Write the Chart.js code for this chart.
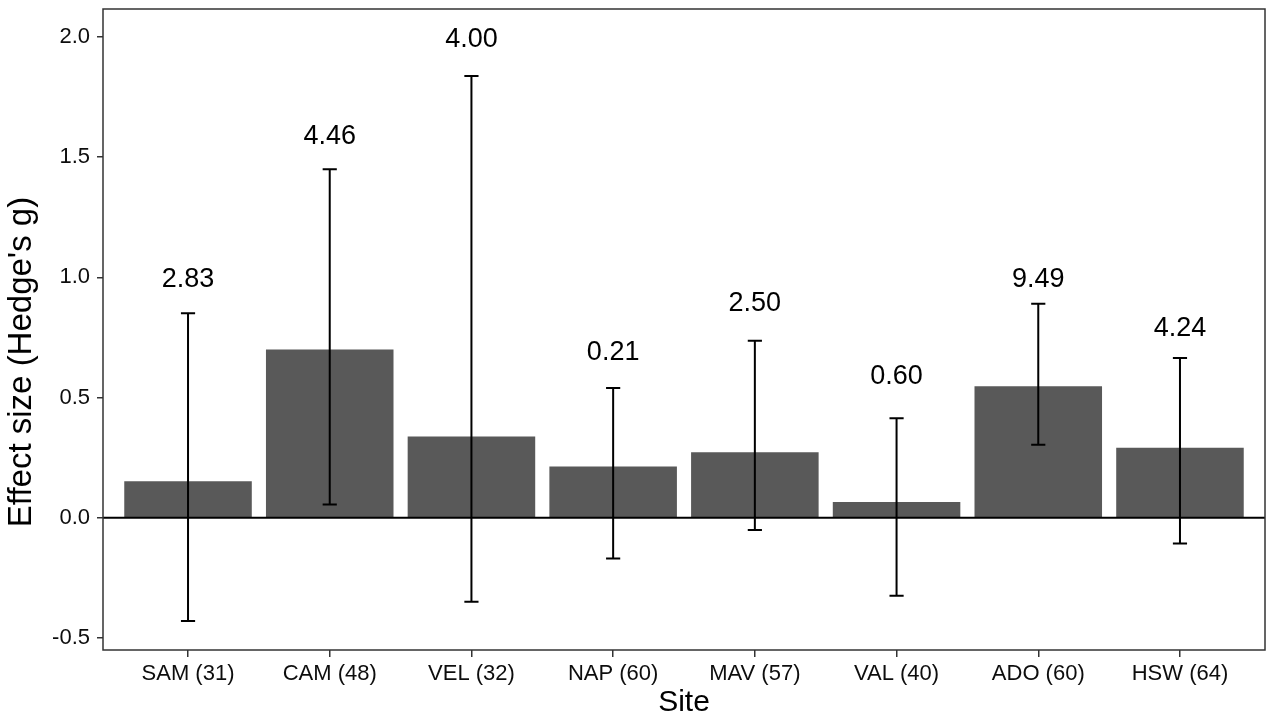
<!DOCTYPE html>
<html>
<head>
<meta charset="utf-8">
<script src="https://cdn.jsdelivr.net/npm/chart.js@4"></script>
<style>
  body { margin: 0; background: #fff; }
</style>
</head>
<body>
<canvas id="grafico" width="1266" height="720"></canvas>
<script>
// datos
const sites = ['SAM (31)', 'CAM (48)', 'VEL (32)', 'NAP (60)', 'MAV (57)', 'VAL (40)', 'ADO (60)', 'HSW (64)'];
const effect = [0.152, 0.700, 0.338, 0.213, 0.272, 0.066, 0.547, 0.291];
const ciLow = [-0.429, 0.055, -0.349, -0.169, -0.051, -0.324, 0.304, -0.107];
const ciHigh = [0.851, 1.449, 1.837, 0.540, 0.736, 0.414, 0.890, 0.664];
const barText = ['2.83', '4.46', '4.00', '0.21', '2.50', '0.60', '9.49', '4.24'];
const barTextAt = [0.994, 1.591, 1.995, 0.692, 0.895, 0.592, 0.994, 0.792];
const yTicks = [-0.5, 0.0, 0.5, 1.0, 1.5, 2.0];

const FONT = '"Liberation Sans", Arial, sans-serif';

const extras = {
    id: 'extras',
    afterDatasetsDraw(chart) {
        const ctx = chart.ctx;
        const x = chart.scales.x;
        const y = chart.scales.y;
        const area = chart.chartArea;
        ctx.save();

        // linea en cero
        ctx.strokeStyle = '#000';
        ctx.lineWidth = 2.2;
        ctx.beginPath();
        ctx.moveTo(area.left, y.getPixelForValue(0));
        ctx.lineTo(area.right, y.getPixelForValue(0));
        ctx.stroke();

        // barras de error
        const cap = (x.getPixelForValue(1) - x.getPixelForValue(0)) * 0.05;
        ctx.lineWidth = 2;
        sites.forEach((s, i) => {
            const px = x.getPixelForValue(i);
            const top = y.getPixelForValue(ciHigh[i]);
            const bot = y.getPixelForValue(ciLow[i]);
            ctx.beginPath();
            ctx.moveTo(px, top); ctx.lineTo(px, bot);
            ctx.moveTo(px - cap, top); ctx.lineTo(px + cap, top);
            ctx.moveTo(px - cap, bot); ctx.lineTo(px + cap, bot);
            ctx.stroke();
        });

        // textos
        ctx.fillStyle = '#000';
        ctx.font = '27px ' + FONT;
        ctx.textAlign = 'center';
        ctx.textBaseline = 'middle';
        sites.forEach((s, i) => {
            ctx.fillText(barText[i], x.getPixelForValue(i), y.getPixelForValue(barTextAt[i]) + 1);
        });

        // marco del panel
        ctx.strokeStyle = '#333';
        ctx.lineWidth = 1.5;
        ctx.strokeRect(area.left, area.top, area.right - area.left, area.bottom - area.top);

        // titulo del eje y
        ctx.translate(22, 362);
        ctx.rotate(-Math.PI / 2);
        ctx.font = '33px ' + FONT;
        ctx.fillText("Effect size (Hedge's g)", 0, 0);
        ctx.restore();
    }
};

const grafico = new Chart(document.getElementById('grafico').getContext('2d'), {
    type: 'bar',
    data: {
        datasets: [{
            data: effect.map((v, i) => ({ x: i, y: v })),
            backgroundColor: '#595959',
            barPercentage: 0.9,
            categoryPercentage: 1.0
        }]
    },
    options: {
        responsive: false,
        animation: false,
        layout: { padding: { left: 0, right: 1, top: 9, bottom: 0 } },
        plugins: { legend: { display: false }, tooltip: { enabled: false } },
        scales: {
            x: {
                type: 'linear',
                min: -0.6,
                max: 7.6,
                offset: false,
                afterBuildTicks: (scale) => { scale.ticks = sites.map((s, i) => ({ value: i })); },
                afterFit: (scale) => { scale.height = 70; scale.paddingLeft = 0; scale.paddingRight = 0; },
                ticks: {
                    autoSkip: false,
                    maxRotation: 0,
                    padding: 4,
                    color: '#0d0d0d',
                    font: { family: FONT, size: 22 },
                    callback: (v) => sites[v]
                },
                grid: { offset: false, drawOnChartArea: false, drawTicks: true, tickLength: 7, color: '#333', lineWidth: 1.5 },
                border: { display: false },
                title: {
                    display: true,
                    text: 'Site',
                    color: '#000',
                    font: { family: FONT, size: 30, lineHeight: 1 },
                    padding: { top: 0, bottom: 2 }
                }
            },
            y: {
                min: -0.55,
                max: 2.116,
                afterBuildTicks: (scale) => { scale.ticks = yTicks.map(v => ({ value: v })); },
                afterFit: (scale) => { scale.width = 103; scale.paddingTop = 0; scale.paddingBottom = 0; },
                ticks: {
                    padding: 7,
                    color: '#0d0d0d',
                    font: { family: FONT, size: 22 },
                    callback: (v) => v.toFixed(1)
                },
                grid: { drawOnChartArea: false, drawTicks: true, tickLength: 6, color: '#333', lineWidth: 1.5 },
                border: { display: false }
            }
        }
    },
    plugins: [extras]
});
</script>
</body>
</html>
